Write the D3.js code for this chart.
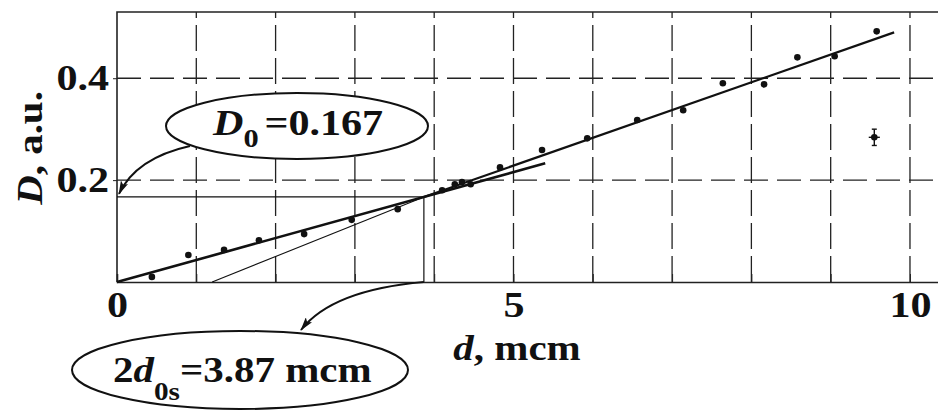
<!DOCTYPE html>
<html>
<head>
<meta charset="utf-8">
<script src="https://cdn.jsdelivr.net/npm/d3@7"></script>
<style>
    body { margin: 0; background: #fff; }
    svg { display: block; }
    text { font-family: "Liberation Serif", "Times New Roman", serif; font-weight: bold; fill: #111; }
</style>
</head>
<body>
<svg id="chart" width="938" height="410"></svg>
<script>
// measured points, d (mcm) and D (a.u.)
let dValues = [0.44, 0.9, 1.35, 1.79, 2.36, 2.96, 3.54, 4.1, 4.26, 4.35, 4.46, 4.83, 5.36, 5.93, 6.56, 7.14, 7.64, 8.16, 8.58, 9.05, 9.58];
let DValues = [0.01, 0.053, 0.063, 0.082, 0.094, 0.122, 0.143, 0.18, 0.192, 0.196, 0.192, 0.225, 0.259, 0.282, 0.318, 0.337, 0.39, 0.388, 0.441, 0.443, 0.492];

// typical error bar
let errPoint = [9.55, 0.284];
let errSize = [0.07, 0.016];

// fit lines
let fitA = [[0, 0], [5.4, 0.233]];
let fitBThin = [[1.2, 0], [3.87, 0.167]];
let fitBThick = [[3.87, 0.167], [9.8, 0.49]];

let D0 = 0.167;
let d0s = 3.87;

let xTicks = [0, 5, 10];
let yTicks = [0.2, 0.4];
let gridX = d3.range(1, 11);

let stretch = 1.17;
let svg = d3.select('#chart');

let x = d3.scaleLinear().domain([0, 10.4]).range([117, 941.7]);
let y = d3.scaleLinear().domain([0, 0.53]).range([282, 12]);

let line = d3.line().x(d => x(d[0])).y(d => y(d[1]));

// grid
svg.append('g')
    .selectAll('line')
    .data(gridX)
    .enter().append('line')
    .attr('x1', d => x(d)).attr('x2', d => x(d))
    .attr('y1', y(0)).attr('y2', y(0.53))
    .attr('stroke', '#222')
    .attr('stroke-width', 1.3)
    .attr('stroke-dasharray', '26,7');

svg.append('g')
    .selectAll('line')
    .data(yTicks)
    .enter().append('line')
    .attr('x1', x(0)).attr('x2', 938)
    .attr('y1', d => y(d)).attr('y2', d => y(d))
    .attr('stroke', '#222')
    .attr('stroke-width', 1.3)
    .attr('stroke-dasharray', '24,9');

// frame
svg.append('path')
    .attr('d', `M940,${y(0.53)}H${x(0)}V${y(0)}`)
    .attr('fill', 'none')
    .attr('stroke', '#222')
    .attr('stroke-width', 1.6);

// axes
let xAxis = svg.append('g')
    .attr('transform', `translate(0,${y(0)})`)
    .call(d3.axisBottom(x).tickValues(d3.range(0, 11)).tickSize(-8)
        .tickFormat(d => xTicks.includes(d) ? d : ''));
xAxis.select('.domain').attr('stroke', '#222').attr('stroke-width', 1.6);
xAxis.selectAll('.tick line').attr('stroke', '#222');
xAxis.selectAll('text')
    .attr('y', 35).attr('dy', null)
    .attr('font-size', 36)
    .attr('transform', `scale(${stretch},1)`);

let yAxis = svg.append('g')
    .attr('transform', `translate(${x(0)},0)`)
    .call(d3.axisLeft(y).tickValues(yTicks).tickSize(4).tickFormat(d3.format('.1f')));
yAxis.select('.domain').remove();
yAxis.selectAll('.tick line').attr('stroke', '#222');
yAxis.selectAll('text')
    .attr('x', -8 / stretch).attr('y', 11).attr('dy', null)
    .attr('font-size', 36)
    .attr('transform', `scale(${stretch},1)`);

// axis titles
let yTitle = svg.append('text')
    .attr('transform', `translate(42,148) rotate(-90) scale(${stretch},1)`)
    .attr('text-anchor', 'middle')
    .attr('font-size', 35);
yTitle.append('tspan').attr('font-style', 'italic').text('D');
yTitle.append('tspan').text(', a.u.');

let xTitle = svg.append('text')
    .attr('transform', `translate(517,360) scale(${stretch},1)`)
    .attr('text-anchor', 'middle')
    .attr('font-size', 35);
xTitle.append('tspan').attr('font-style', 'italic').text('d');
xTitle.append('tspan').text(', mcm');

// D0 and 2d0s guide lines
svg.append('path')
    .attr('d', `M${x(0)},${y(D0)}H${x(d0s)}V${y(0)}`)
    .attr('fill', 'none')
    .attr('stroke', '#111')
    .attr('stroke-width', 1.2);

// fit lines
svg.append('path').datum(fitA)
    .attr('d', line)
    .attr('stroke', '#111').attr('stroke-width', 2.6).attr('fill', 'none');
svg.append('path').datum(fitBThin)
    .attr('d', line)
    .attr('stroke', '#111').attr('stroke-width', 1.1).attr('fill', 'none');
svg.append('path').datum(fitBThick)
    .attr('d', line)
    .attr('stroke', '#111').attr('stroke-width', 2.2).attr('fill', 'none');

// points
svg.append('g')
    .selectAll('circle')
    .data(dValues.map((d, i) => [d, DValues[i]]))
    .enter().append('circle')
    .attr('cx', d => x(d[0]))
    .attr('cy', d => y(d[1]))
    .attr('r', 3.3)
    .attr('fill', '#111');

// error bar sample
let eb = svg.append('g').attr('stroke', '#111').attr('stroke-width', 1.4);
eb.append('line')
    .attr('x1', x(errPoint[0] - errSize[0])).attr('x2', x(errPoint[0] + errSize[0]))
    .attr('y1', y(errPoint[1])).attr('y2', y(errPoint[1]));
eb.append('line')
    .attr('x1', x(errPoint[0])).attr('x2', x(errPoint[0]))
    .attr('y1', y(errPoint[1] - errSize[1])).attr('y2', y(errPoint[1] + errSize[1]));
eb.append('line')
    .attr('x1', x(errPoint[0]) - 2.5).attr('x2', x(errPoint[0]) + 2.5)
    .attr('y1', y(errPoint[1] + errSize[1])).attr('y2', y(errPoint[1] + errSize[1]));
eb.append('line')
    .attr('x1', x(errPoint[0]) - 2.5).attr('x2', x(errPoint[0]) + 2.5)
    .attr('y1', y(errPoint[1] - errSize[1])).attr('y2', y(errPoint[1] - errSize[1]));
svg.append('circle')
    .attr('cx', x(errPoint[0])).attr('cy', y(errPoint[1]))
    .attr('r', 3.3).attr('fill', '#111');

// arrow marker
svg.append('defs').append('marker')
    .attr('id', 'arrow')
    .attr('viewBox', '0 0 14 8')
    .attr('refX', 13).attr('refY', 4)
    .attr('markerWidth', 14).attr('markerHeight', 8)
    .attr('markerUnits', 'userSpaceOnUse')
    .attr('orient', 'auto')
    .append('path')
    .attr('d', 'M0,0L14,4L0,8L3,4z')
    .attr('fill', '#111');

// callout D0
svg.append('ellipse')
    .attr('cx', 297).attr('cy', 126).attr('rx', 131).attr('ry', 33)
    .attr('fill', '#fff').attr('stroke', '#111').attr('stroke-width', 2);
svg.append('path')
    .attr('d', `M190,146Q136,158 ${x(0) + 2},${y(D0) - 3}`)
    .attr('fill', 'none').attr('stroke', '#111').attr('stroke-width', 2)
    .attr('marker-end', 'url(#arrow)');
let t1 = svg.append('text')
    .attr('transform', `translate(213,135) scale(${stretch},1)`)
    .attr('font-size', 36);
t1.append('tspan').attr('font-style', 'italic').text('D');
t1.append('tspan').attr('font-size', 26).attr('dy', 12).text('0');
t1.append('tspan').attr('dy', -12).attr('dx', 5).text('=0.167');

// callout 2d0s
svg.append('ellipse')
    .attr('cx', 240).attr('cy', 370).attr('rx', 168).attr('ry', 39)
    .attr('fill', '#fff').attr('stroke', '#111').attr('stroke-width', 2);
svg.append('path')
    .attr('d', `M${x(d0s)},${y(0)}Q332,290 301,330`)
    .attr('fill', 'none').attr('stroke', '#111').attr('stroke-width', 2)
    .attr('marker-end', 'url(#arrow)');
let t2 = svg.append('text')
    .attr('transform', `translate(113,382) scale(${stretch},1)`)
    .attr('font-size', 35);
t2.append('tspan').text('2');
t2.append('tspan').attr('font-style', 'italic').text('d');
t2.append('tspan').attr('font-size', 25).attr('dy', 18).text('0s');
t2.append('tspan').attr('dy', -18).text('=3.87 mcm');
</script>
</body>
</html>
